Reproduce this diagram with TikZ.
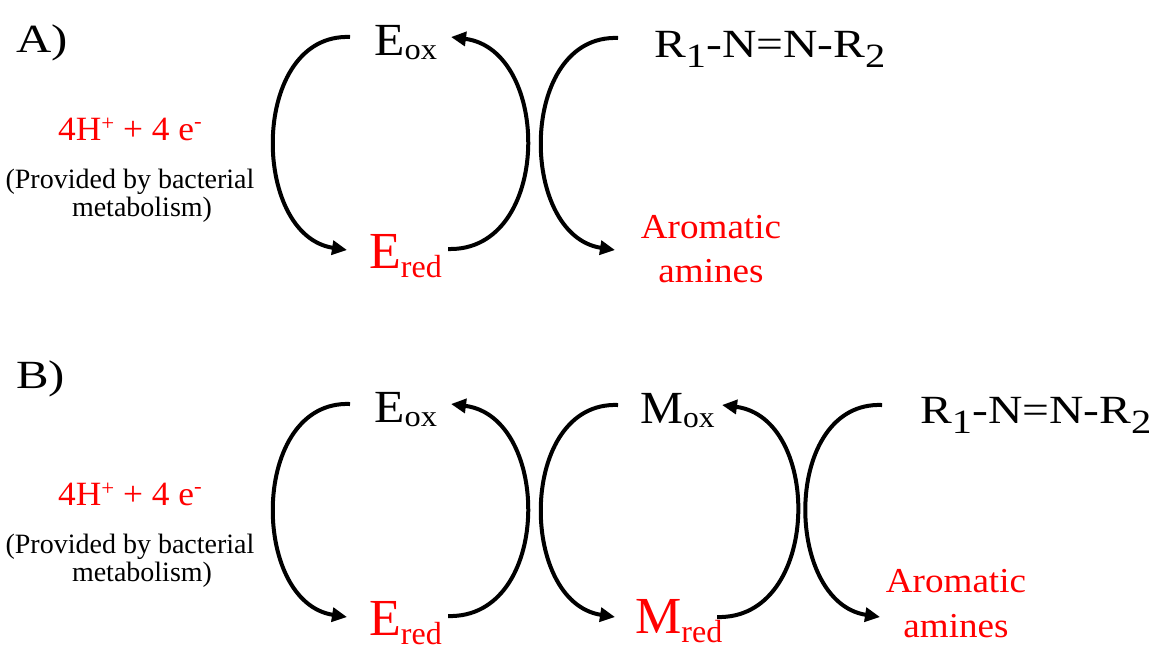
\documentclass[tikz,border=0pt]{standalone}
\usepackage{fontspec}
\usepackage{graphicx}
\setmainfont{Liberation Serif}
\usetikzlibrary{arrows.meta}
\definecolor{rd}{RGB}{255,0,0}
\newcommand{\fsz}[1]{\fontsize{#1}{#1}\selectfont}
\newcommand{\sbx}[3]{\raisebox{-#2pt}{\fsz{#1}#3}}
\newcommand{\spx}[3]{\raisebox{#2pt}{\fsz{#1}#3}}
\newcommand{\xs}[2]{\scalebox{#1}[1]{#2}}
\begin{document}
\begin{tikzpicture}[x=1pt,y=-1pt,
  lbl/.style={anchor=base west, inner sep=0pt},
  ctr/.style={anchor=base, inner sep=0pt},
  arr/.style={line width=4pt, -{Triangle[length=15pt,width=14pt]}},
  red/.style={text=rd}
]
\useasboundingbox (0,0) rectangle (1158,648);
% ---------- Panel A ----------
\node[lbl] (Alab) at (16,52) {\xs{1.22}{\fsz{40}A)}};
\node[lbl] (EoxA) at (374,55) {\xs{1.08}{\fsz{46}E\sbx{30}{4}{ox}}};
\node[lbl,red] (EredA) at (369,268) {\fsz{52}E\sbx{32}{9}{red}};
\node[lbl] (azoA) at (654,57) {\xs{1.19}{\fsz{40}R\sbx{34}{10}{1}-N=N-R\sbx{34}{10}{2}}};
\node[lbl,red] (HA) at (58,140) {\xs{1.04}{\fsz{34}4H\spx{22}{10}{+} + 4 e\spx{22}{12}{-}}};
\node[ctr] (provA) at (130,188) {\fsz{28}(Provided by bacterial};
\node[ctr] (metA) at (142,216) {\fsz{28}metabolism)};
\node[ctr,red] (aroA) at (711,238) {\xs{1.06}{\fsz{35}Aromatic}};
\node[ctr,red] (amA) at (711,282) {\xs{1.06}{\fsz{35}amines}};
\coordinate (a1s) at (350,37);  \coordinate (a1e) at (347,250);
\coordinate (a2s) at (448,249); \coordinate (a2e) at (451,37);
\coordinate (a3s) at (618,38);  \coordinate (a3e) at (615,250);
\draw[arr] (a1s) .. controls +(-100,-4) and +(-97,-15) .. (a1e);
\draw[arr] (a2s) .. controls +(104,3) and +(101,13) .. (a2e);
\draw[arr] (a3s) .. controls +(-100,-4) and +(-97,-15) .. (a3e);
% ---------- Panel B ----------
\node[lbl] (Blab) at (16,388) {\xs{1.22}{\fsz{40}B)}};
\node[lbl] (EoxB) at (374,422) {\xs{1.08}{\fsz{46}E\sbx{30}{4}{ox}}};
\node[lbl,red] (EredB) at (369,635) {\fsz{52}E\sbx{32}{9}{red}};
\node[lbl] (MoxB) at (640,423) {\xs{1.05}{\fsz{46}M\sbx{30}{4}{ox}}};
\node[lbl,red] (MredB) at (635,633) {\fsz{52}M\sbx{32}{9}{red}};
\node[lbl] (azoB) at (920,423) {\xs{1.19}{\fsz{40}R\sbx{34}{10}{1}-N=N-R\sbx{34}{10}{2}}};
\node[lbl,red] (HB) at (58,505) {\xs{1.04}{\fsz{34}4H\spx{22}{10}{+} + 4 e\spx{22}{12}{-}}};
\node[ctr] (provB) at (130,553) {\fsz{28}(Provided by bacterial};
\node[ctr] (metB) at (142,581) {\fsz{28}metabolism)};
\node[ctr,red] (aroB) at (956,592) {\xs{1.06}{\fsz{35}Aromatic}};
\node[ctr,red] (amB) at (956,637) {\xs{1.06}{\fsz{35}amines}};
\coordinate (b1s) at (350,404); \coordinate (b1e) at (347,617);
\coordinate (b2s) at (448,616); \coordinate (b2e) at (451,404);
\coordinate (b3s) at (618,405); \coordinate (b3e) at (615,617);
\coordinate (b4s) at (717,617); \coordinate (b4e) at (722,405);
\coordinate (b5s) at (882,405); \coordinate (b5e) at (880,617);
\draw[arr] (b1s) .. controls +(-100,-4) and +(-97,-15) .. (b1e);
\draw[arr] (b2s) .. controls +(104,3) and +(101,13) .. (b2e);
\draw[arr] (b3s) .. controls +(-100,-4) and +(-97,-15) .. (b3e);
\draw[arr] (b4s) .. controls +(104,3) and +(101,13) .. (b4e);
\draw[arr] (b5s) .. controls +(-100,-4) and +(-97,-15) .. (b5e);
\end{tikzpicture}
\end{document}
